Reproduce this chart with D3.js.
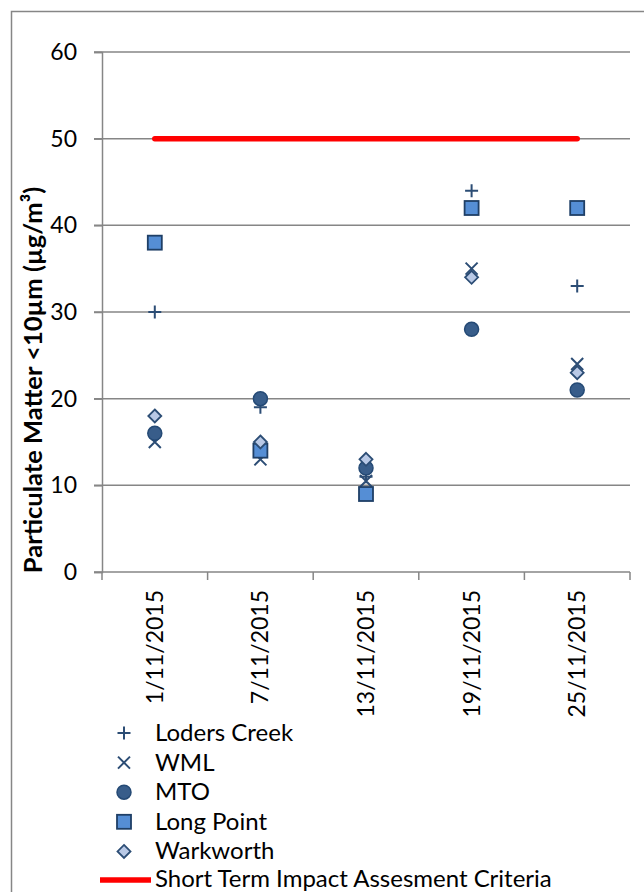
<!DOCTYPE html>
<html>
<head>
<meta charset="utf-8">
<script src="https://cdn.jsdelivr.net/npm/d3@7"></script>
<style>
  html, body { margin: 0; padding: 0; background: #fff; }
  svg { display: block; }
  text { font-family: Lato, "Open Sans", sans-serif; fill: #000; }
</style>
</head>
<body>
<svg id="chart" width="644" height="892"></svg>
<script>
// Sampling dates
const dates = ["1/11/2015", "7/11/2015", "13/11/2015", "19/11/2015", "25/11/2015"];

// PM10 readings (µg/m³) per monitoring site
const lodersCreek = [30, 19, 11, 44, 33];
const wml = [15, 13, 10.5, 35, 24];
const mto = [16, 20, 12, 28, 21];
const longPoint = [38, 14, 9, 42, 42];
const warkworth = [18, 15, 13, 34, 23];

// Short term impact assessment criterion
const criteria = [50, 50, 50, 50, 50];

const yTicks = [0, 10, 20, 30, 40, 50, 60];

const seriesNames = ["Loders Creek", "WML", "MTO", "Long Point", "Warkworth"];
const seriesValues = [lodersCreek, wml, mto, longPoint, warkworth];
const criteriaName = "Short Term Impact Assesment Criteria";

const svg = d3.select("#chart");
const W = 644, H = 892;
const plot = { left: 102, right: 630, top: 52, bottom: 572 };

const gridColor = "#868686";
const darkBlue = "#2c4d75";

// chart frame
svg.append("path")
  .attr("d", `M11.5,${H} V11.5 H${W}`)
  .attr("fill", "none").attr("stroke", gridColor).attr("stroke-width", 1.5);

const x = d3.scaleBand().domain(dates).range([plot.left, plot.right]).padding(0);
const y = d3.scaleLinear().domain([0, 60]).range([plot.bottom, plot.top]);
const cx = d => x(d) + x.bandwidth() / 2;

// horizontal gridlines
svg.append("g").selectAll("line").data(yTicks.filter(t => t > 0)).join("line")
  .attr("x1", plot.left - 8).attr("x2", plot.right)
  .attr("y1", d => y(d)).attr("y2", d => y(d))
  .attr("stroke", gridColor).attr("stroke-width", 1.5);

// y axis
const yAxis = svg.append("g").attr("transform", `translate(${plot.left},0)`)
  .call(d3.axisLeft(y).tickValues(yTicks).tickSize(8).tickPadding(17).tickFormat(d3.format("d")));
yAxis.select(".domain").attr("stroke", gridColor).attr("stroke-width", 1.5);
yAxis.selectAll(".tick line").attr("stroke", gridColor).attr("stroke-width", 1.5);
yAxis.selectAll(".tick text").attr("font-size", 23).attr("font-family", "Lato, sans-serif").attr("fill", "#000");

// x axis with ticks between categories
const xAxisG = svg.append("g").attr("transform", `translate(0,${plot.bottom})`);
xAxisG.append("line")
  .attr("x1", plot.left - 8).attr("x2", plot.right)
  .attr("stroke", gridColor).attr("stroke-width", 1.5);
const bounds = dates.map(d => x(d)).concat([x(dates[dates.length - 1]) + x.bandwidth()]);
xAxisG.selectAll("line.tk").data(bounds).join("line").attr("class", "tk")
  .attr("x1", d => d).attr("x2", d => d).attr("y1", 0).attr("y2", 8)
  .attr("stroke", gridColor).attr("stroke-width", 1.5);
xAxisG.selectAll("text").data(dates).join("text")
  .attr("transform", d => `translate(${cx(d) + 8},18) rotate(-90)`)
  .attr("text-anchor", "end")
  .attr("font-size", 23)
  .text(d => d);

// y axis title
svg.append("text")
  .attr("transform", "translate(42,380) rotate(-90)")
  .attr("text-anchor", "middle")
  .attr("font-size", 25.5).attr("font-weight", "bold")
  .text("Particulate Matter <10µm (µg/m³)");

// criterion line
svg.append("path")
  .datum(dates.map((d, i) => [cx(d), y(criteria[i])]))
  .attr("d", d3.line())
  .attr("fill", "none").attr("stroke", "#ff0000").attr("stroke-width", 5.5)
  .attr("stroke-linecap", "round");

// marker drawing helpers
const markers = [
  g => g.append("path").attr("d", "M-6.5,0H6.5M0,-6.5V6.5")
        .attr("stroke", darkBlue).attr("stroke-width", 2).attr("fill", "none"),
  g => g.append("path").attr("d", "M-6,-6L6,6M-6,6L6,-6")
        .attr("stroke", darkBlue).attr("stroke-width", 2).attr("fill", "none"),
  g => g.append("circle").attr("r", 7)
        .attr("fill", "#385d8a").attr("stroke", "#254a75").attr("stroke-width", 1.5),
  g => g.append("rect").attr("x", -7).attr("y", -7).attr("width", 14).attr("height", 14)
        .attr("fill", "#558ed5").attr("stroke", "#1f3f66").attr("stroke-width", 1.8),
  g => g.append("path").attr("d", "M0,-6.5L6.5,0L0,6.5L-6.5,0Z")
        .attr("fill", "#b9c9e6").attr("stroke", darkBlue).attr("stroke-width", 1.8)
];

seriesValues.forEach((vals, si) => {
  const g = svg.append("g");
  vals.forEach((v, i) => {
    const m = g.append("g").attr("transform", `translate(${cx(dates[i])},${y(v)})`);
    markers[si](m);
  });
});

// legend
const legend = svg.append("g");
const rowY = i => 733 + i * 29.6;
seriesNames.forEach((name, i) => {
  const m = legend.append("g").attr("transform", `translate(124,${rowY(i)})`);
  markers[i](m);
  legend.append("text").attr("x", 155).attr("y", rowY(i) + 8)
    .attr("font-size", 24).text(name);
});
const ly = rowY(5);
legend.append("line").attr("x1", 100).attr("x2", 151).attr("y1", ly - 1).attr("y2", ly - 1)
  .attr("stroke", "#ff0000").attr("stroke-width", 5.5);
legend.append("text").attr("x", 155).attr("y", ly + 6).attr("font-size", 24).text(criteriaName);
</script>
</body>
</html>
